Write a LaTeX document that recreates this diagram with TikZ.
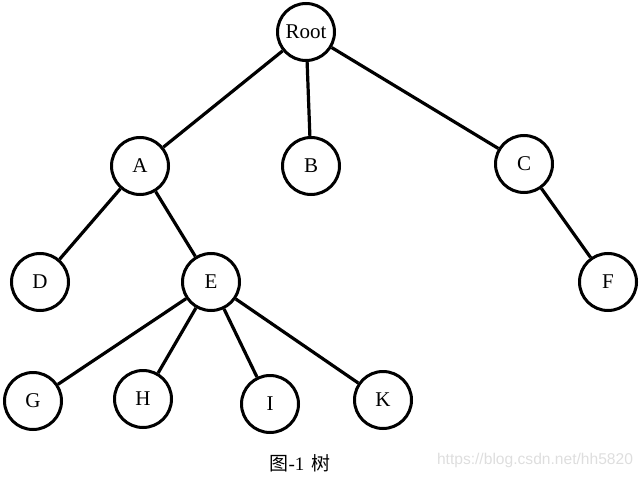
\documentclass[tikz,border=0pt]{standalone}
\usepackage{fontspec}
\setmainfont{Liberation Serif}
\newfontfamily\cjk{Noto Sans CJK SC}
\newfontfamily\wmfont{Liberation Sans}
\definecolor{grey1}{RGB}{222, 222, 222}

\begin{document}
\begin{tikzpicture}[x=1pt, y=-1pt, line width=3.2pt]
  \useasboundingbox (0,0) rectangle (644,478);
  \tikzset{tnode/.style={circle, draw=black, line width=3pt, minimum size=57pt, inner sep=0pt, font=\fontsize{21}{24}\selectfont}}

  \node[tnode] (root) at (306,32) {Root};
  \node[tnode] (a) at (140,166) {A};
  \node[tnode] (b) at (311,166) {B};
  \node[tnode] (c) at (524,164) {C};

  \node[tnode] (d) at (40,282) {D};
  \node[tnode] (e) at (211,282) {E};
  \node[tnode] (f) at (608,282) {F};

  \node[tnode] (g) at (33,401) {G};
  \node[tnode] (h) at (143,399) {H};
  \node[tnode] (i) at (270,404) {I};
  \node[tnode] (k) at (383,400) {K};

  \foreach \from/\to in {root/a, root/b, root/c, a/d, a/e, c/f, e/g, e/h, e/i, e/k}
   \draw (\from) -- (\to);

  \node[font=\fontsize{19}{22}\selectfont] (caption) at (300,463) {{\cjk 图}-1\hspace{7pt}{\cjk 树}};
  \node[text=grey1, font=\wmfont\fontsize{15.6}{18}\selectfont] (mark) at (535,460) {https://blog.csdn.net/hh5820};
\end{tikzpicture}
\end{document}
